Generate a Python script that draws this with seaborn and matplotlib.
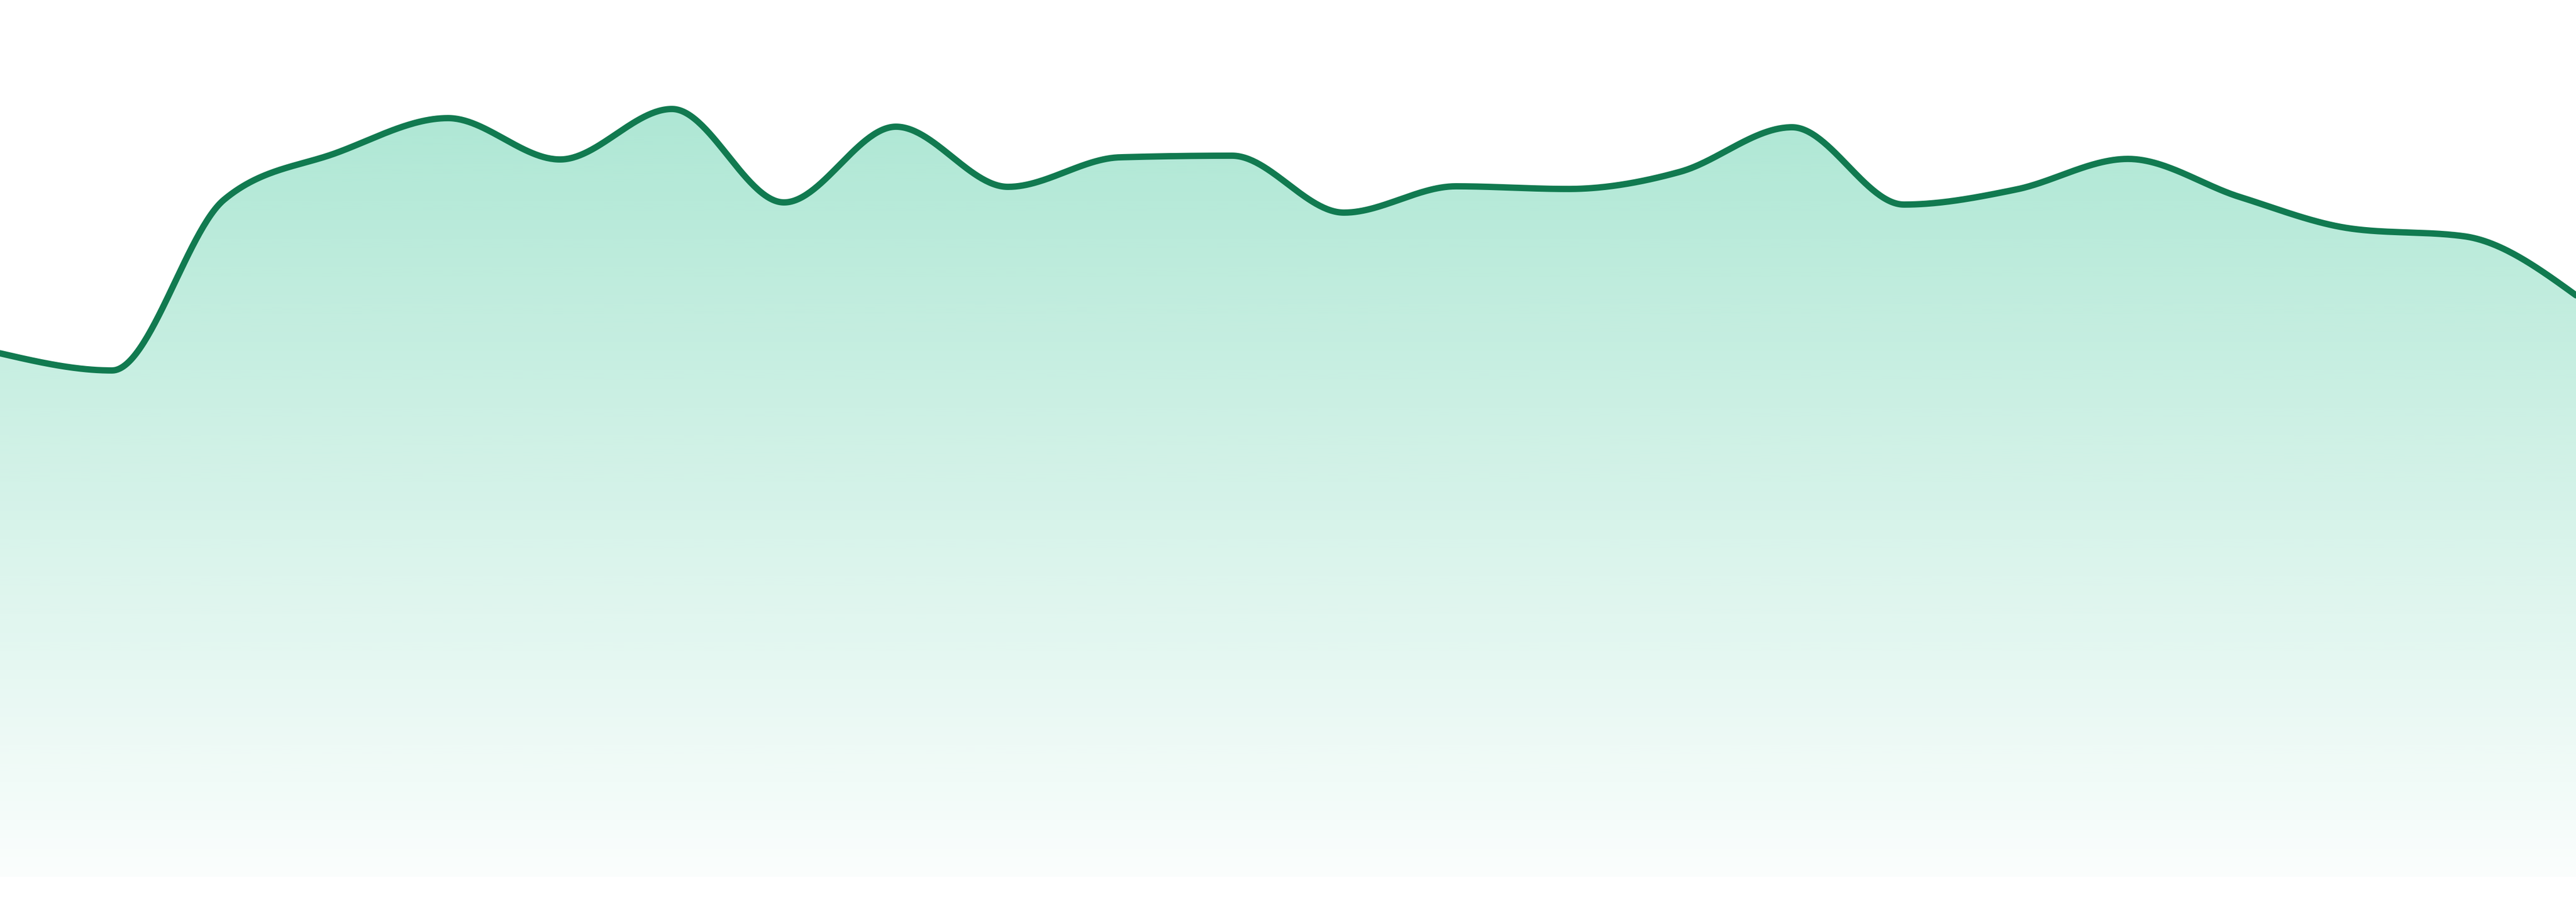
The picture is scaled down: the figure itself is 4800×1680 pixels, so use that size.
import numpy as np
import pandas as pd
import matplotlib
matplotlib.use("Agg")
import matplotlib.pyplot as plt
from matplotlib.patches import Polygon
import seaborn as sns

# data (one value per step, arbitrary units)
steps = list(range(24))
values = [97.5, 94.3, 126.1, 134.8, 141.3, 133.6, 143.0, 125.6,
          139.7, 128.5, 134.0, 134.3, 123.7, 128.6, 128.1, 131.3,
          139.6, 125.2, 128.0, 133.7, 126.6, 120.7, 119.3, 108.3]

line_color = "#117a50"
fill_color = (16 / 255, 185 / 255, 129 / 255)


def monotone_curve(x, y, n=60):
    # monotone cubic (same slopes as d3.curveMonotoneX), sampled for drawing
    x = np.asarray(x, float)
    y = np.asarray(y, float)
    h = np.diff(x)
    s = np.diff(y) / h
    m = np.zeros_like(y)
    sg = lambda v: -1.0 if v < 0 else 1.0
    for i in range(1, len(x) - 1):
        p = (s[i - 1] * h[i] + s[i] * h[i - 1]) / (h[i - 1] + h[i])
        m[i] = (sg(s[i - 1]) + sg(s[i])) * min(abs(s[i - 1]), abs(s[i]), 0.5 * abs(p))
    m[0] = (3 * s[0] - m[1]) / 2
    m[-1] = (3 * s[-1] - m[-2]) / 2
    xs, ys = [], []
    for i in range(len(x) - 1):
        t = np.linspace(0, 1, n, endpoint=(i == len(x) - 2))
        h00 = 2 * t**3 - 3 * t**2 + 1
        h10 = t**3 - 2 * t**2 + t
        h01 = -2 * t**3 + 3 * t**2
        h11 = t**3 - t**2
        xs.append(x[i] + t * h[i])
        ys.append(h00 * y[i] + h10 * h[i] * m[i] + h01 * y[i + 1] + h11 * h[i] * m[i + 1])
    return np.concatenate(xs), np.concatenate(ys)


sns.set_theme(style="white")

fig = plt.figure(figsize=(48, 16.8), dpi=100)
ax = fig.add_axes([0, 0, 1, 1])

cx, cy = monotone_curve(steps, values)
curve = pd.DataFrame({"step": cx, "value": cy})

ax.set_xlim(0, 23)
ax.set_ylim(-4.7, 163.3)

# gradient area under the curve
top = max(values)
grad = np.linspace(0.34, 0.02, 256).reshape(-1, 1)
rgba = np.zeros((256, 1, 4))
rgba[..., 0], rgba[..., 1], rgba[..., 2] = fill_color
rgba[..., 3] = grad
img = ax.imshow(rgba, extent=[0, 23, 0, top], origin="upper",
                aspect="auto", interpolation="bicubic", zorder=1)
verts = np.column_stack([np.r_[cx, 23, 0], np.r_[cy, 0, 0]])
area = Polygon(verts, closed=True, facecolor="none", edgecolor="none")
ax.add_patch(area)
img.set_clip_path(area)

sns.lineplot(data=curve, x="step", y="value", sort=False, estimator=None,
             color=line_color, linewidth=8.5, ax=ax, zorder=2)

ax.set_xlim(0, 23)
ax.set_ylim(-4.7, 163.3)
ax.axis("off")

fig.savefig("out.png", dpi=100, facecolor="white")
